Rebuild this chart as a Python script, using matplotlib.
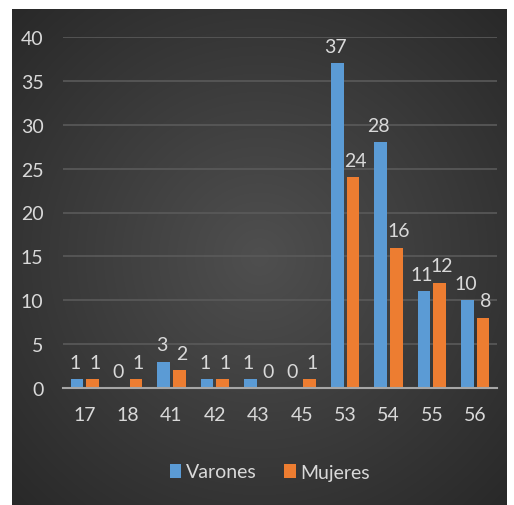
import matplotlib
matplotlib.use("Agg")
import matplotlib.pyplot as plt
import numpy as np

categories = ["17", "18", "41", "42", "43", "45", "53", "54", "55", "56"]
varones = [1, 0, 3, 1, 1, 0, 37, 28, 11, 10]
mujeres = [1, 1, 2, 1, 0, 1, 24, 16, 12, 8]
yticks = [0, 5, 10, 15, 20, 25, 30, 35, 40]

BLUE = "#5B9BD5"
ORANGE = "#ED7D31"
TEXT = "#D9D9D9"

plt.rcParams["font.family"] = ["Lato", "DejaVu Sans"]

fig = plt.figure(figsize=(5.14, 5.06), dpi=100)
fig.patch.set_facecolor("white")

# dark panel with radial gradient
bg = fig.add_axes([12 / 514, 0, 495 / 514, 496 / 506])
bg.set_axis_off()
yy, xx = np.mgrid[-1:1:300j, -1:1:300j]
r = np.sqrt(xx ** 2 + yy ** 2) / np.sqrt(2)
shade = 0.31 - 0.15 * r
img = np.dstack([shade, shade, shade])
bg.imshow(img, aspect="auto", extent=[0, 1, 0, 1], interpolation="bilinear")
bg.set_xlim(0, 1)
bg.set_ylim(0, 1)

ax = fig.add_axes([63 / 514, 1 - 389 / 506, 434 / 514, 351 / 506])
ax.patch.set_alpha(0)

x = np.arange(len(categories))
w = 0.29
off = 0.18
b1 = ax.bar(x - off, varones, w, color=BLUE, label="Varones", zorder=3)
b2 = ax.bar(x + off, mujeres, w, color=ORANGE, label="Mujeres", zorder=3)

for bars, vals, dx in ((b1, varones, -1.5), (b2, mujeres, 1.5)):
    for rect, v in zip(bars, vals):
        ax.annotate(str(v), (rect.get_x() + rect.get_width() / 2, v),
                    xytext=(dx, 6), textcoords="offset points",
                    ha="center", va="bottom", color=TEXT, fontsize=14)

ax.set_xlim(-0.5, 9.5)
ax.set_ylim(0, 40)
ax.set_yticks(yticks)
ax.set_xticks(x, categories)
ax.grid(axis="y", color="#5a5a5a", linewidth=1.2, zorder=0)
for s in ("top", "right", "left"):
    ax.spines[s].set_visible(False)
ax.spines["bottom"].set_color("#a6a6a6")
ax.spines["bottom"].set_linewidth(1.5)
ax.spines["bottom"].set_zorder(4)
ax.tick_params(axis="both", length=0, colors=TEXT, labelsize=14)
ax.tick_params(axis="y", pad=14)
ax.tick_params(axis="x", pad=13)

leg = fig.legend(loc="center", bbox_to_anchor=(270 / 514, 1 - 473 / 506),
                 ncol=2, frameon=False, fontsize=14, handlelength=0.6,
                 handleheight=0.7, handletextpad=0.25, columnspacing=1.4)
for t in leg.get_texts():
    t.set_color(TEXT)

fig.savefig("out.png", dpi=100)
